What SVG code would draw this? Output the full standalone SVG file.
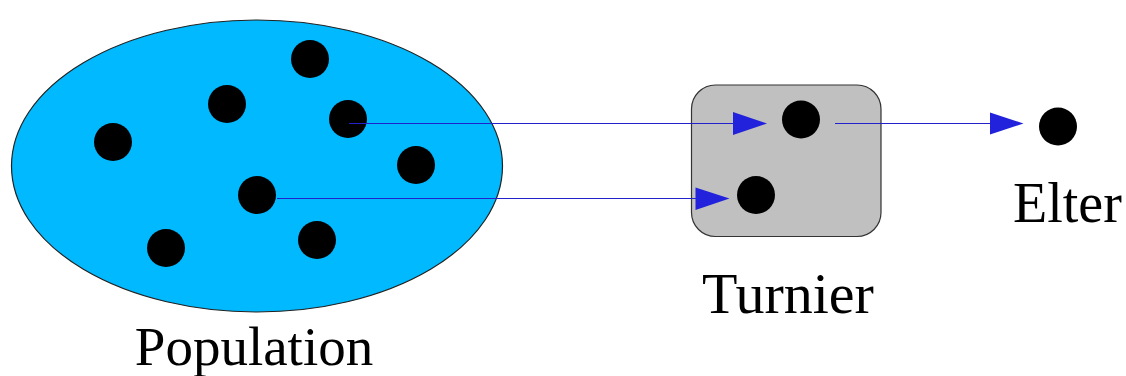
<svg xmlns="http://www.w3.org/2000/svg" width="1126" height="376" viewBox="0 0 1126 376">
<defs>
<style>
.dot{fill:#000}
.lbl{font-family:"Liberation Serif","Times New Roman",serif;fill:#000}
.con{stroke:#2222cc;stroke-width:1.2;fill:none}
.head{fill:#2222dd}
</style>
</defs>
<rect width="1126" height="376" fill="#fff"/>
<g id="population">
<ellipse cx="257" cy="166" rx="245.5" ry="146" fill="#00b9ff" stroke="#222" stroke-width="1.2"/>
<circle class="dot" cx="310" cy="59" r="19"/>
<circle class="dot" cx="227" cy="104" r="19"/>
<circle class="dot" cx="348" cy="119" r="19"/>
<circle class="dot" cx="113" cy="142" r="19"/>
<circle class="dot" cx="416" cy="165" r="19"/>
<circle class="dot" cx="257" cy="195" r="19"/>
<circle class="dot" cx="166" cy="248" r="19"/>
<circle class="dot" cx="317" cy="240" r="19"/>
<text class="lbl" x="254" y="365" font-size="55" text-anchor="middle">Population</text>
</g>
<g id="turnier">
<rect x="691.5" y="85" width="189.5" height="151.5" rx="24" ry="24" fill="#c0c0c0" stroke="#333" stroke-width="1.2"/>
<circle class="dot" cx="801" cy="119.5" r="19"/>
<circle class="dot" cx="756" cy="195" r="19"/>
<text class="lbl" x="788" y="313" font-size="58" text-anchor="middle">Turnier</text>
</g>
<g id="elter">
<circle class="dot" cx="1058" cy="126.5" r="19"/>
<text class="lbl" x="1013" y="222" font-size="56">Elter</text>
</g>
<g id="connectors">
<line class="con" x1="349" y1="123.5" x2="735" y2="123.5"/>
<polygon class="head" points="733,112 767,123.5 733,135"/>
<line class="con" x1="277" y1="198.5" x2="697" y2="198.5" stroke="#4a4af0"/>
<polygon class="head" points="695.5,187.5 729.5,198.5 695.5,210"/>
<line class="con" x1="835" y1="123.5" x2="992" y2="123.5"/>
<polygon class="head" points="990,112.5 1023.5,123.5 990,134.5"/>
</g>
</svg>
